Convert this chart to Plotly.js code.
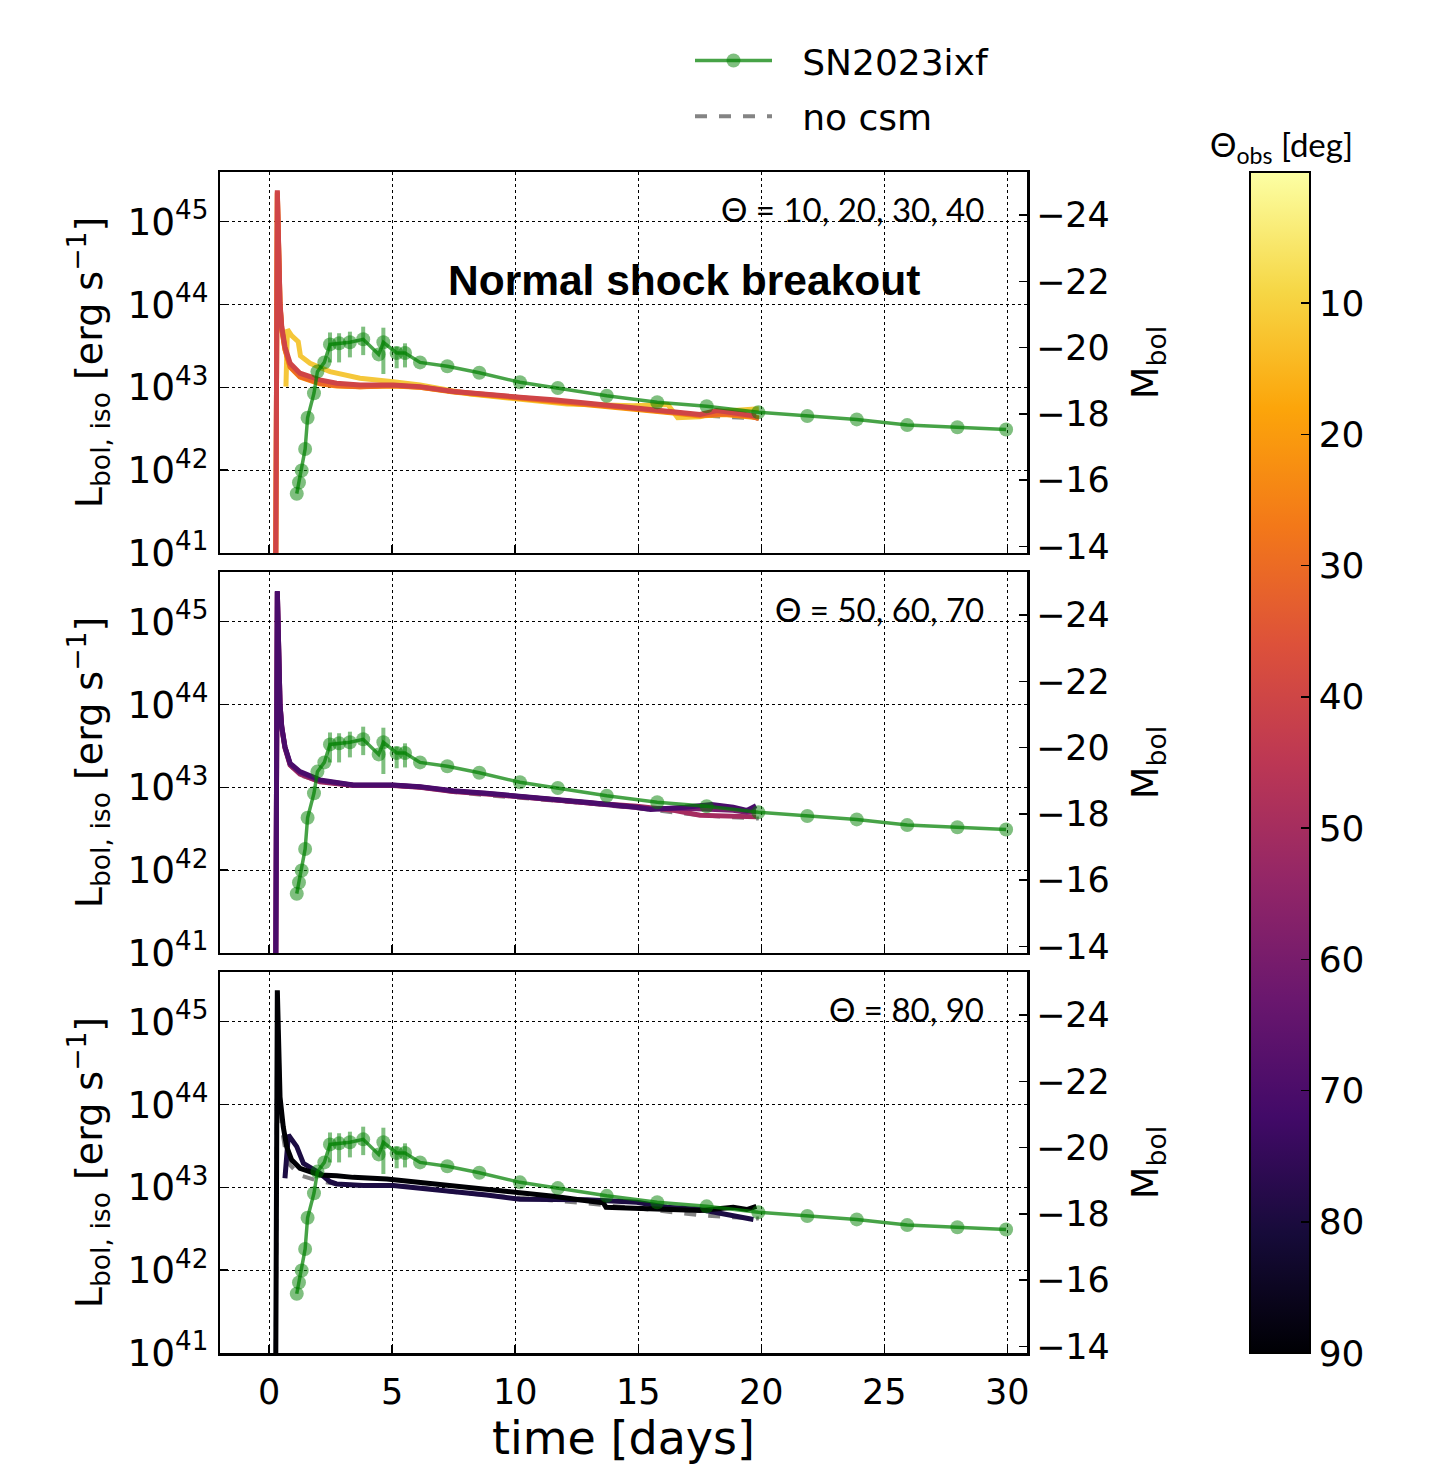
<!DOCTYPE html>
<html><head><meta charset="utf-8">
<script src="https://cdn.plot.ly/plotly-3.0.1.min.js"></script>
<style>body{margin:0;background:#fff}#chart{width:1430px;height:1473px}</style>
</head><body><div id="chart"></div><script>
// ---------------- data ----------------
const snTime = [1.12,1.21,1.32,1.46,1.56,1.82,1.96,2.24,2.47,2.84,3.28,3.82,4.45,4.64,5.18,5.52,6.13,7.24,8.54,10.19,11.73,13.72,15.77,17.78,19.88,21.87,23.88,25.93,27.97,29.95];
const snLum = [5.2e41,7.1e41,9.9e41,1.8e42,4.3e42,8.5e42,1.55e43,2.0e43,3.3e43,3.4e43,3.5e43,3.8e43,2.5e43,3.5e43,2.6e43,2.6e43,2.0e43,1.8e43,1.5e43,1.15e43,9.8e42,7.9e42,6.6e42,5.9e42,5.0e42,4.5e42,4.1e42,3.5e42,3.3e42,3.1e42];
const snErrPlus  = [0,0,0,0,0,0,0,0,1.3e43,1.1e43,1.2e43,1.6e43,0,1.75e43,0.5e43,0.8e43,0,0,0,0,0,0,0,0,0,0,0,0,0,0];
const snErrMinus = [0,0,0,0,0,0,0,0,1.3e43,1.4e43,1.2e43,1.35e43,0,2.05e43,0.9e43,0.86e43,0,0,0,0,0,0,0,0,0,0,0,0,0,0];

const noCsmTime = [0.24,0.33,0.44,0.51,0.64,0.85,1.25,2.06,2.74,3.69,5.04,6.13,7.48,8.84,10.19,11.55,12.90,14.94,16.42,17.51,18.5,19.54,19.9];
const noCsmLum  = [1e39,2.35e45,1.02e44,5.2e43,3.0e43,1.85e43,1.4e43,1.18e43,1.1e43,1.05e43,1.05e43,1.0e43,8.8e42,8.0e42,7.5e42,7.0e42,6.4e42,5.6e42,5.0e42,4.6e42,4.4e42,4.3e42,4.2e42];

// top panel: theta = 10, 20, 30, 40
const th10Time = [0.68,0.74,0.91,1.18,1.27,1.66,2.47,3.69,5.04,6.13,8.16,10.19,11.55,12.1,14.8,16.2,16.6,17.5,18.3,19.54,19.9];
const th10Lum  = [1.02e43,5.0e43,4.2e43,3.55e43,2.4e43,1.95e43,1.55e43,1.29e43,1.17e43,1.07e43,8.3e42,7.1e42,6.5e42,6.3e42,6.0e42,6.2e42,4.3e42,4.4e42,5.1e42,5.4e42,5.5e42];
const th20Time = [0.24,0.33,0.44,0.51,0.64,0.85,1.25,2.06,2.74,3.69,5.04,6.13,7.48,8.84,10.19,11.55,12.90,14.94,16.42,17.51,18.5,19.54,19.9];
const th20Lum  = [1e39,2.2e45,9.8e43,5.0e43,2.85e43,1.75e43,1.33e43,1.1e43,1.04e43,1.02e43,1.04e43,1.0e43,8.8e42,8.0e42,7.3e42,6.8e42,6.2e42,5.4e42,4.9e42,4.5e42,4.7e42,4.4e42,4.3e42];
const th30Time = [0.24,0.33,0.44,0.51,0.64,0.85,1.25,2.06,2.74,3.69,5.04,6.13,7.48,8.84,10.19,11.55,12.90,14.94,16.42,17.51,18.5,19.54,19.9];
const th30Lum  = [1e39,2.3e45,1.0e44,5.1e43,2.9e43,1.78e43,1.35e43,1.12e43,1.05e43,1.02e43,1.05e43,1.0e43,8.9e42,8.1e42,7.4e42,6.9e42,6.3e42,5.5e42,5.0e42,4.6e42,4.8e42,4.5e42,4.2e42];
const th40Time = [0.24,0.33,0.44,0.51,0.64,0.85,1.25,2.06,2.74,3.69,5.04,6.13,7.48,8.84,10.19,11.55,12.90,14.94,16.42,17.51,18.19,19.54,19.79];
const th40Lum  = [1e39,2.4e45,1.05e44,5.4e43,3.1e43,1.95e43,1.48e43,1.23e43,1.12e43,1.07e43,1.07e43,1.02e43,8.9e42,8.1e42,7.6e42,7.1e42,6.5e42,5.75e42,5.1e42,4.7e42,5.25e42,4.7e42,4.5e42];

// middle panel: theta = 50, 60, 70
const th50Time = [0.24,0.33,0.44,0.51,0.64,0.85,1.25,2.06,3.42,5.04,6.13,7.48,8.84,10.19,11.55,12.90,14.94,16.5,17.51,19.79];
const th50Lum  = [1e39,2.3e45,1.0e44,5.25e43,3.0e43,1.86e43,1.45e43,1.17e43,1.05e43,1.05e43,1.0e43,8.9e42,8.3e42,7.8e42,7.1e42,6.5e42,5.9e42,5.25e42,4.6e42,4.4e42];
const th60Time = [0.24,0.33,0.44,0.51,0.64,0.85,1.25,2.06,3.42,5.04,6.13,7.48,8.84,10.19,11.55,12.90,14.94,15.5,16.9,17.98,18.86,19.41,19.79];
const th60Lum  = [1e39,2.3e45,1.0e44,5.3e43,3.05e43,1.9e43,1.5e43,1.2e43,1.06e43,1.06e43,1.01e43,9.0e42,8.4e42,7.8e42,7.1e42,6.5e42,5.7e42,5.5e42,5.6e42,5.5e42,5.3e42,5.0e42,5.1e42];
const th70Time = [0.24,0.33,0.44,0.51,0.64,0.85,1.25,2.06,3.42,5.04,6.13,7.48,8.84,10.19,11.55,12.90,14.94,15.5,16.9,17.98,18.86,19.41,19.79];
const th70Lum  = [1e39,2.35e45,1.02e44,5.4e43,3.1e43,1.95e43,1.55e43,1.23e43,1.07e43,1.07e43,1.02e43,9.1e42,8.5e42,7.9e42,7.2e42,6.6e42,5.75e42,5.4e42,5.75e42,6.2e42,5.75e42,5.25e42,6.0e42];

// bottom panel: theta = 80, 90
const th80Time = [0.64,0.78,1.12,1.39,2.06,2.47,2.74,3.83,5.04,6.13,7.48,8.84,10.19,11.55,12.90,14.94,16.16,17.51,18.86,19.68];
const th80Lum  = [1.29e43,4.3e43,3.1e43,1.95e43,1.48e43,1.17e43,1.1e43,1.05e43,1.05e43,9.8e42,8.9e42,8.1e42,7.2e42,7.2e42,7.1e42,6.6e42,5.75e42,5.4e42,4.5e42,4.1e42];
const th90Time = [0.24,0.33,0.44,0.57,0.71,0.91,1.25,2.06,2.74,3.42,4.78,6.13,7.48,8.84,10.19,11.55,12.90,13.58,13.69,14.94,16.16,17.51,18.86,19.41,19.68,19.8];
const th90Lum  = [1e39,2.4e45,1.23e44,5.4e43,3.1e43,2.15e43,1.7e43,1.41e43,1.38e43,1.32e43,1.26e43,1.15e43,1.05e43,9.5e42,8.7e42,7.8e42,6.9e42,6.5e42,5.75e42,5.6e42,5.4e42,5.25e42,5.75e42,5.4e42,5.75e42,5.9e42];

const panelLabels = ['\u0398 = 10, 20, 30, 40', '\u0398 = 50, 60, 70', '\u0398 = 80, 90'];
const cbTicks = [10,20,30,40,50,60,70,80,90];
const xTicks = [0,5,10,15,20,25,30];
const magTicks = [-24,-22,-20,-18,-16,-14];

// ---------------- styling ----------------
const FONT = 'DejaVu Sans, sans-serif';
const THIN = 'Lato, sans-serif';
const inferno = [[0,'#000004'],[0.1,'#160b39'],[0.2,'#420a68'],[0.3,'#6a176e'],[0.4,'#932667'],[0.5,'#bc3754'],[0.6,'#dd513a'],[0.7,'#f37819'],[0.8,'#fca50a'],[0.9,'#f6d746'],[1,'#fcffa4']];
const thetaColor = {10:'#f5c73a',20:'#fb9b06',30:'#ed6925',40:'#cf4446',50:'#a52c60',60:'#781c6d',70:'#4a0c6b',80:'#1c0c43',90:'#000004'};

const axisIds = [['x','y','y2'],['x2','y3','y4'],['x3','y5','y6']];
const models = [
  [[10,th10Time,th10Lum],[20,th20Time,th20Lum],[30,th30Time,th30Lum],[40,th40Time,th40Lum]],
  [[50,th50Time,th50Lum],[60,th60Time,th60Lum],[70,th70Time,th70Lum]],
  [[80,th80Time,th80Lum],[90,th90Time,th90Lum]]
];

const traces = [];
for (let p = 0; p < 3; p++) {
  const [xa, ya, yb] = axisIds[p];
  // empty carrier so the magnitude axis is drawn
  traces.push({type:'scatter', mode:'lines', x:[null], y:[null], xaxis:xa, yaxis:yb, showlegend:false, hoverinfo:'skip'});
  traces.push({type:'scatter', mode:'lines', x:noCsmTime, y:noCsmLum, xaxis:xa, yaxis:ya,
    name:'\u2002\u2009no csm', legendgroup:'nocsm', legendrank:2, showlegend:p===0,
    line:{color:'rgba(110,110,110,0.85)', width:4, dash:'dash'}, hoverinfo:'skip'});
  for (const [th, t, L] of models[p]) {
    traces.push({type:'scatter', mode:'lines', x:t, y:L, xaxis:xa, yaxis:ya, showlegend:false,
      name:'\u0398=' + th, line:{color:thetaColor[th], width:5}});
  }
  traces.push({type:'scatter', mode:'lines+markers', x:snTime, y:snLum, xaxis:xa, yaxis:ya,
    name:'\u2002\u2009SN2023ixf', legendgroup:'sn', legendrank:1, showlegend:p===0,
    line:{color:'rgba(0,128,0,0.72)', width:3.5},
    marker:{symbol:'circle', size:14, color:'rgba(0,128,0,0.5)', line:{width:0}},
    error_y:{type:'data', symmetric:false, array:snErrPlus, arrayminus:snErrMinus,
      color:'rgba(0,128,0,0.5)', thickness:4, width:0}});
}

// colour bar carrier
traces.push({type:'scatter', mode:'markers', x:[null], y:[null], xaxis:'x', yaxis:'y', showlegend:false, hoverinfo:'skip',
  marker:{color:cbTicks.map(v => -v), colorscale:inferno, cmin:-90, cmax:0, showscale:true,
    colorbar:{x:(1250-220)/807, xanchor:'left', xpad:0, y:0.5, yanchor:'middle', ypad:0,
      len:1, lenmode:'fraction', thickness:60, thicknessmode:'pixels',
      outlinewidth:2, outlinecolor:'black',
      tickvals:cbTicks.map(v => -v), ticktext:cbTicks.map(String),
      ticks:'inside', ticklen:10, tickwidth:1.5, tickcolor:'black',
      tickfont:{family:FONT, size:36, color:'black'}}}});

const doms = [[0.6774,1],[0.3387,0.6613],[0,0.3226]];
const layout = {
  width:1430, height:1473,
  margin:{l:220, r:403, t:172, b:120},
  paper_bgcolor:'white', plot_bgcolor:'white',
  font:{family:FONT, color:'black'},
  showlegend:true,
  legend:{x:(690-220)/807, xanchor:'left', y:1.1197, yanchor:'top', bgcolor:'rgba(0,0,0,0)',
    font:{family:FONT, size:36, color:'black'}, itemwidth:77, traceorder:'grouped', tracegroupgap:6},
  annotations:[
    {text:'<b>Normal shock breakout</b>', xref:'paper', yref:'paper', x:(684-220)/807, y:(1353-280)/1181,
      xanchor:'center', yanchor:'middle', showarrow:false, font:{family:'Liberation Sans, Arial, sans-serif', size:42.5, color:'black'}},
    {text:'\u0398<sub>obs</sub> [deg]', xref:'paper', yref:'paper', x:(1281-220)/807, y:(1353-147)/1181,
      xanchor:'center', yanchor:'middle', showarrow:false, font:{family:THIN, size:33, color:'black'}}
  ],
  hovermode:false
};
panelLabels.forEach((txt, i) => {
  const cy = [209, 609, 1009][i];
  layout.annotations.push({text:txt, xref:'paper', yref:'paper', x:(986-220)/807, y:(1353-cy)/1181,
    xanchor:'right', yanchor:'middle', showarrow:false, font:{family:THIN, size:33, color:'black'}});
});

for (let p = 0; p < 3; p++) {
  const [xa, ya, yb] = axisIds[p];
  const xKey = 'xaxis' + (p === 0 ? '' : (p + 1));
  const yaKey = 'yaxis' + (p === 0 ? '' : (2 * p + 1));
  const ybKey = 'yaxis' + (2 * p + 2);
  layout[xKey] = {domain:[0,1], anchor:ya, range:[-2,30.8], tickvals:xTicks,
    ticks:'inside', ticklen:8, tickwidth:1.5, tickcolor:'black',
    showgrid:true, gridcolor:'black', griddash:'dot', gridwidth:1,
    showline:true, mirror:true, linecolor:'black', linewidth:2.5, zeroline:false,
    showticklabels:p === 2, tickfont:{family:FONT, size:35, color:'black'}, ticklabelstandoff:6,
    title: p === 2 ? {text:'time [days]', font:{family:FONT, size:46, color:'black'}, standoff:6} : {text:''}};
  layout[yaKey] = {domain:doms[p], anchor:xa, type:'log', range:[41,45.6], dtick:1, exponentformat:'power',
    ticks:'inside', ticklen:8, tickwidth:1.5, tickcolor:'black',
    showgrid:true, gridcolor:'black', griddash:'dot', gridwidth:1,
    showline:true, mirror:true, linecolor:'black', linewidth:2.5, zeroline:false,
    tickfont:{family:FONT, size:30, color:'black'}, ticklabelstandoff:3,
    title:{text:'L<sub>bol, iso</sub> [erg s<sup>\u22121</sup>]', font:{family:FONT, size:38, color:'black'}, standoff:13}};
  layout[ybKey] = {overlaying:ya, anchor:xa, side:'right', range:[-13.80,-25.30], tickvals:magTicks,
    ticks:'inside', ticklen:8, tickwidth:1.5, tickcolor:'black',
    showgrid:false, zeroline:false, showline:false,
    tickfont:{family:FONT, size:35, color:'black'}, ticklabelstandoff:8,
    title:{text:'M<sub>bol</sub>', font:{family:FONT, size:38, color:'black'}, standoff:22}};
}

Plotly.newPlot('chart', traces, layout, {staticPlot:true, displayModeBar:false});
</script></body></html>
